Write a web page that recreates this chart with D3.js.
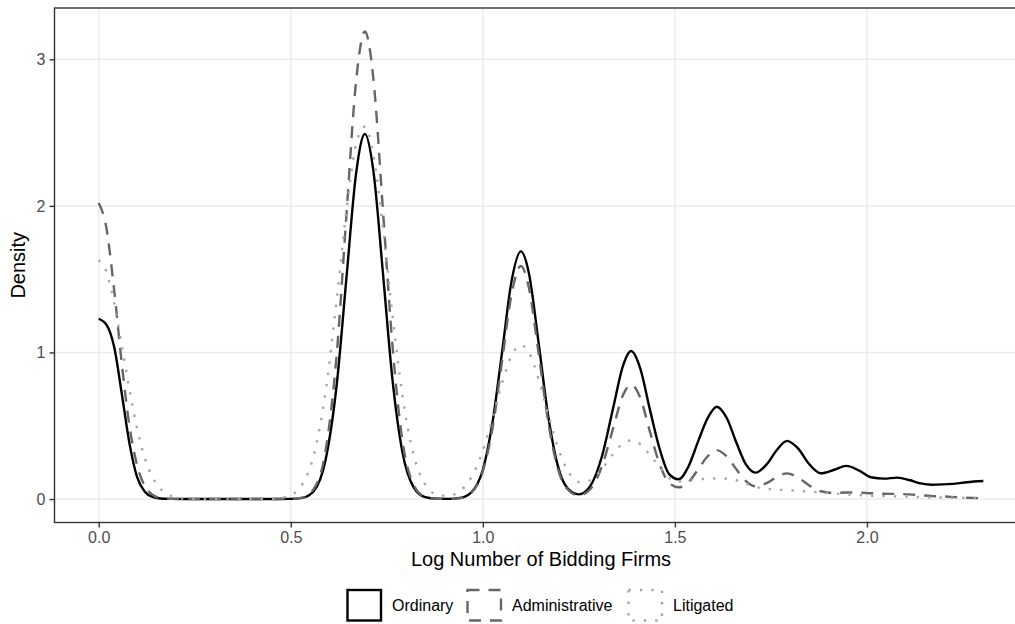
<!DOCTYPE html>
<html>
<head>
<meta charset="utf-8">
<script src="https://cdn.jsdelivr.net/npm/d3@7"></script>
<style>
  body { margin: 0; background: #fff; }
  svg { font-family: "Liberation Sans", Arial, sans-serif; display: block; }
</style>
</head>
<body>
<div class="chart"></div>
<script>
// x grid where the densities were read (log number of bidding firms)
var logFirms = [
  0, 0.02, 0.04, 0.06, 0.08, 0.10, 0.12, 0.14, 0.16, 0.19,
  0.22, 0.30, 0.40, 0.46, 0.50, 0.53, 0.56, 0.59, 0.62, 0.645,
  0.67, 0.693, 0.715, 0.74, 0.765, 0.79, 0.82, 0.85, 0.88, 0.91,
  0.94, 0.97, 1.00, 1.025, 1.05, 1.075, 1.099, 1.12, 1.145, 1.17,
  1.195, 1.22, 1.25, 1.28, 1.31, 1.34, 1.365, 1.386, 1.41, 1.435,
  1.46, 1.485, 1.51, 1.535, 1.56, 1.585, 1.609, 1.635, 1.66, 1.685,
  1.71, 1.74, 1.765, 1.792, 1.82, 1.85, 1.88, 1.915, 1.946, 1.98,
  2.01, 2.045, 2.079, 2.11, 2.14, 2.17, 2.197, 2.23, 2.26, 2.303
];

var ordinary = [
  1.23, 1.19, 1.04, 0.72, 0.38, 0.15, 0.05, 0.014, 0.004, 0.001,
  0, 0, 0, 0, 0.001, 0.008, 0.055, 0.26, 0.79, 1.51,
  2.22, 2.49, 2.24, 1.54, 0.81, 0.33, 0.08, 0.013, 0.002, 0.001,
  0.007, 0.046, 0.20, 0.52, 1.00, 1.49, 1.69, 1.54, 1.07, 0.57,
  0.23, 0.075, 0.032, 0.09, 0.29, 0.63, 0.91, 1.01, 0.89, 0.61,
  0.345, 0.17, 0.135, 0.22, 0.39, 0.55, 0.63, 0.553, 0.386, 0.236,
  0.18, 0.24, 0.333, 0.397, 0.347, 0.237, 0.176, 0.20, 0.226, 0.194,
  0.149, 0.139, 0.146, 0.13, 0.107, 0.098, 0.10, 0.105, 0.115, 0.123
];

var administrative = [
  2.02, 1.85, 1.43, 0.925, 0.50, 0.23, 0.089, 0.029, 0.008, 0.001,
  0, 0, 0, 0, 0.001, 0.01, 0.069, 0.32, 1.00, 1.94,
  2.85, 3.19, 2.87, 1.97, 1.04, 0.41, 0.096, 0.015, 0.002, 0.001,
  0.0065, 0.043, 0.19, 0.48, 0.94, 1.40, 1.59, 1.44, 1.00, 0.53,
  0.21, 0.069, 0.025, 0.069, 0.223, 0.49, 0.71, 0.78, 0.69, 0.46,
  0.24, 0.11, 0.08, 0.115, 0.20, 0.29, 0.334, 0.29, 0.203, 0.122,
  0.087, 0.11, 0.15, 0.175, 0.147, 0.093, 0.053, 0.041, 0.045, 0.044,
  0.04, 0.036, 0.035, 0.032, 0.026, 0.02, 0.018, 0.013, 0.009, 0.005
];

var litigated = [
  1.63, 1.55, 1.34, 1.05, 0.75, 0.48, 0.28, 0.149, 0.072, 0.02,
  0.004, 0, 0, 0.003, 0.027, 0.10, 0.30, 0.72, 1.37, 1.97,
  2.42, 2.54, 2.35, 1.85, 1.25, 0.72, 0.30, 0.10, 0.031, 0.022,
  0.054, 0.147, 0.33, 0.55, 0.79, 0.98, 1.05, 1.0, 0.82, 0.58,
  0.355, 0.20, 0.116, 0.128, 0.205, 0.31, 0.38, 0.40, 0.374, 0.30,
  0.22, 0.144, 0.12, 0.126, 0.133, 0.139, 0.141, 0.138, 0.128, 0.105,
  0.083, 0.07, 0.064, 0.061, 0.056, 0.05, 0.045, 0.038, 0.032, 0.027,
  0.023, 0.02, 0.018, 0.016, 0.013, 0.011, 0.01, 0.009, 0.008, 0.007
];

var seriesNames = ['Ordinary', 'Administrative', 'Litigated'];
var xTicks = [0, 0.5, 1.0, 1.5, 2.0];
var yTicks = [0, 1, 2, 3];

var styles = {
    Ordinary:       { color: '#000000', dash: null,   width: 2.4 },
    Administrative: { color: '#666666', dash: '12,9', width: 2.4 },
    Litigated:      { color: '#a6a6a6', dash: '2.4,9', width: 2.4 }
};

var series = [
    { name: 'Ordinary', values: ordinary },
    { name: 'Administrative', values: administrative },
    { name: 'Litigated', values: litigated }
];

var width = 1015, height = 624;
var panel = { left: 54.5, right: 1027.5, top: 8, bottom: 522.5 };

var x = d3.scaleLinear()
    .domain([-0.1151, 2.418])
    .range([panel.left, panel.right]);
var y = d3.scaleLinear()
    .domain([-0.16, 3.35])
    .range([panel.bottom, panel.top]);

var svg = d3.select('.chart')
    .append('svg')
    .attr('width', width)
    .attr('height', height);

svg.append('defs').append('clipPath')
    .attr('id', 'panel-clip')
    .append('rect')
    .attr('x', panel.left)
    .attr('y', panel.top)
    .attr('width', panel.right - panel.left)
    .attr('height', panel.bottom - panel.top);

// grid
var grid = svg.append('g');
grid.selectAll('.gx')
    .data(xTicks)
    .enter()
    .append('line')
    .attr('x1', d => x(d)).attr('x2', d => x(d))
    .attr('y1', panel.top).attr('y2', panel.bottom)
    .attr('stroke', '#ebebeb')
    .attr('stroke-width', 1.5);
grid.selectAll('.gy')
    .data(yTicks)
    .enter()
    .append('line')
    .attr('x1', panel.left).attr('x2', panel.right)
    .attr('y1', d => y(d)).attr('y2', d => y(d))
    .attr('stroke', '#ebebeb')
    .attr('stroke-width', 1.5);

// density curves
var line = d3.line()
    .x((d, i) => x(logFirms[i]))
    .y(d => y(d))
    .curve(d3.curveMonotoneX);

svg.append('g')
    .attr('clip-path', 'url(#panel-clip)')
    .selectAll('path')
    .data(series)
    .enter()
    .append('path')
    .attr('d', d => line(d.values))
    .attr('fill', 'none')
    .attr('stroke', d => styles[d.name].color)
    .attr('stroke-width', d => styles[d.name].width)
    .attr('stroke-dasharray', d => styles[d.name].dash)
    .attr('stroke-linejoin', 'round');

// panel border
svg.append('rect')
    .attr('x', panel.left)
    .attr('y', panel.top)
    .attr('width', panel.right - panel.left)
    .attr('height', panel.bottom - panel.top)
    .attr('fill', 'none')
    .attr('stroke', '#333333')
    .attr('stroke-width', 1.4);

// axes
var xAxis = d3.axisBottom(x)
    .tickValues(xTicks)
    .tickFormat(d3.format('.1f'))
    .tickSize(5)
    .tickPadding(4);
var yAxis = d3.axisLeft(y)
    .tickValues(yTicks)
    .tickFormat(d3.format('d'))
    .tickSize(5)
    .tickPadding(4);

var gx = svg.append('g')
    .attr('transform', `translate(0,${panel.bottom})`)
    .call(xAxis);
var gy = svg.append('g')
    .attr('transform', `translate(${panel.left},0)`)
    .call(yAxis);

[gx, gy].forEach(g => {
    g.select('.domain').remove();
    g.selectAll('.tick line').attr('stroke', '#333333').attr('stroke-width', 1.4);
    g.selectAll('.tick text')
        .attr('fill', '#4d4d4d')
        .style('font-size', '16px')
        .style('font-family', '"Liberation Sans", Arial, sans-serif');
});

// axis titles
svg.append('text')
    .attr('x', (panel.left + panel.right) / 2)
    .attr('y', 566)
    .attr('text-anchor', 'middle')
    .style('font-size', '20px')
    .text('Log Number of Bidding Firms');

svg.append('text')
    .attr('transform', `translate(25,${(panel.top + panel.bottom) / 2}) rotate(-90)`)
    .attr('text-anchor', 'middle')
    .style('font-size', '20px')
    .text('Density');

// legend
var legendPos = { Ordinary: 347.5, Administrative: 467.5, Litigated: 628.5 };
var legend = svg.append('g');
var items = legend.selectAll('g')
    .data(seriesNames)
    .enter()
    .append('g')
    .attr('transform', d => `translate(${legendPos[d]},590)`);

items.append('rect')
    .attr('width', 33.5)
    .attr('height', 30.5)
    .attr('fill', 'none')
    .attr('stroke', d => styles[d].color)
    .attr('stroke-width', d => styles[d].width)
    .attr('stroke-dasharray', d => styles[d].dash);

items.append('text')
    .attr('x', 44.5)
    .attr('y', 21)
    .style('font-size', '16px')
    .attr('fill', '#000')
    .text(d => d);
</script>
</body>
</html>
